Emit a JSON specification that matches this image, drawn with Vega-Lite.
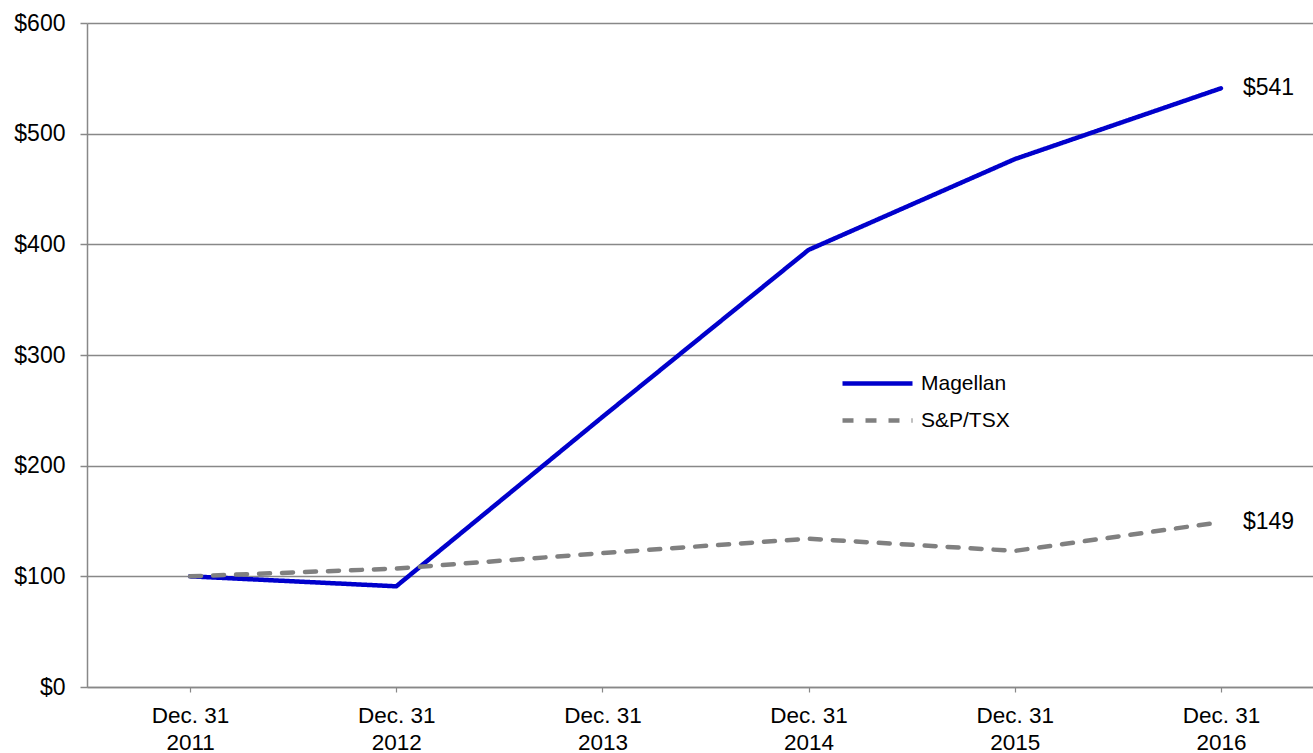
{
  "$schema": "https://vega.github.io/schema/vega-lite/v6.json",
  "autosize": "none",
  "width": 1237,
  "height": 664,
  "padding": {"left": 87, "top": 23, "right": 0, "bottom": 66},
  "background": "white",
  "config": {
    "font": "Liberation Sans",
    "view": {"stroke": null}
  },
  "data": {
    "values": [
      {"year": "2011", "series": "Magellan", "value": 100},
      {"year": "2012", "series": "Magellan", "value": 91},
      {"year": "2013", "series": "Magellan", "value": 244},
      {"year": "2014", "series": "Magellan", "value": 395},
      {"year": "2015", "series": "Magellan", "value": 477},
      {"year": "2016", "series": "Magellan", "value": 541},
      {"year": "2011", "series": "S&P/TSX", "value": 100},
      {"year": "2012", "series": "S&P/TSX", "value": 107},
      {"year": "2013", "series": "S&P/TSX", "value": 121},
      {"year": "2014", "series": "S&P/TSX", "value": 134},
      {"year": "2015", "series": "S&P/TSX", "value": 123},
      {"year": "2016", "series": "S&P/TSX", "value": 149}
    ]
  },
  "encoding": {
    "x": {
      "field": "year",
      "type": "ordinal",
      "scale": {"type": "point", "padding": 0.5},
      "axis": {
        "title": null,
        "labelAngle": 0,
        "labelExpr": "['Dec. 31', datum.value]",
        "labelFont": "Liberation Sans",
        "labelFontSize": 22.5,
        "labelColor": "#000000",
        "labelLineHeight": 27,
        "labelPadding": 12,
        "domainColor": "#888888",
        "domainWidth": 1.5,
        "tickColor": "#888888",
        "tickSize": 5,
        "tickWidth": 1.2,
        "grid": false
      }
    },
    "y": {
      "field": "value",
      "type": "quantitative",
      "scale": {"domain": [0, 600], "nice": false, "zero": true},
      "axis": {
        "title": null,
        "values": [0, 100, 200, 300, 400, 500, 600],
        "format": "$.0f",
        "labelFont": "Liberation Sans",
        "labelFontSize": 23,
        "labelColor": "#000000",
        "labelPadding": 15,
        "domainColor": "#888888",
        "domainWidth": 1.5,
        "tickColor": "#888888",
        "tickSize": 7,
        "tickWidth": 1.5,
        "grid": true,
        "gridColor": "#888888",
        "gridWidth": 1.5
      }
    }
  },
  "layer": [
    {
      "mark": {"type": "line", "strokeWidth": 4.5, "strokeCap": "round", "strokeJoin": "miter"},
      "encoding": {
        "color": {
          "field": "series",
          "type": "nominal",
          "scale": {"domain": ["Magellan", "S&P/TSX"], "range": ["#0000CC", "#808080"]},
          "legend": {
            "title": null,
            "orient": "none",
            "legendX": 753,
            "legendY": 342,
            "symbolType": "stroke",
            "symbolSize": 4900,
            "symbolStrokeWidth": 4.5,
            "labelFont": "Liberation Sans",
            "labelFontSize": 21,
            "labelColor": "#000000",
            "labelOffset": 6,
            "clipHeight": 37,
            "rowPadding": 0
          }
        },
        "strokeDash": {
          "field": "series",
          "type": "nominal",
          "scale": {"domain": ["Magellan", "S&P/TSX"], "range": [[1, 0], [11, 12]]},
          "legend": null
        }
      }
    },
    {
      "transform": [{"filter": "datum.year == '2016'"}],
      "mark": {"type": "text", "align": "left", "baseline": "middle", "dx": 22, "fontSize": 23, "font": "Liberation Sans", "color": "#000000"},
      "encoding": {
        "text": {"field": "value", "type": "quantitative", "format": "$.0f"}
      }
    }
  ]
}
